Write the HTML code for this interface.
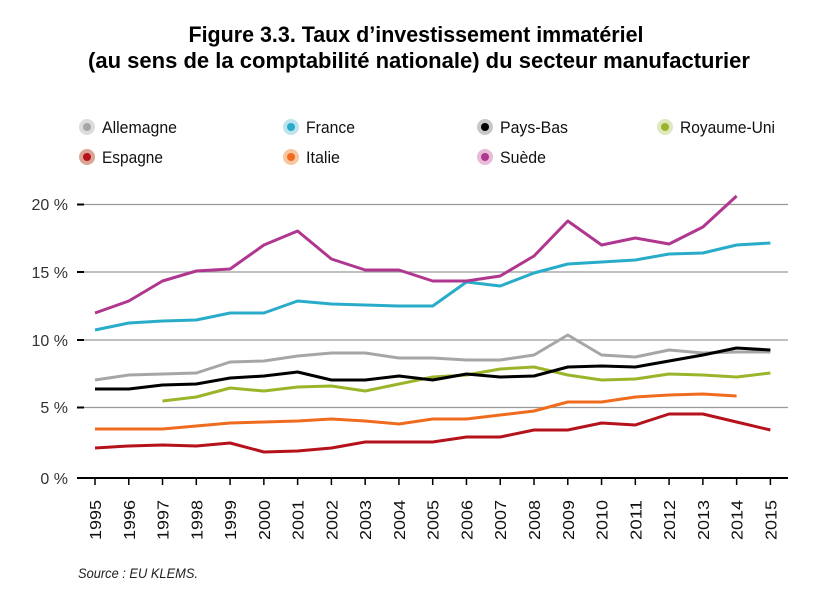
<!DOCTYPE html><html><head><meta charset="utf-8"><style>
body{margin:0;background:#fff;}
svg text{font-family:"Liberation Sans Narrow","Liberation Sans",sans-serif;}
</style></head><body>
<svg width="833" height="588" viewBox="0 0 833 588" xmlns="http://www.w3.org/2000/svg">
<text x="416" y="42" text-anchor="middle" font-size="22.5" font-weight="bold" fill="#000" textLength="455" lengthAdjust="spacingAndGlyphs">Figure 3.3. Taux d’investissement immatériel</text>
<text x="88" y="68" font-size="22.5" font-weight="bold" fill="#000" textLength="662" lengthAdjust="spacingAndGlyphs">(au sens de la comptabilité nationale) du secteur manufacturier</text>
<g font-size="17" fill="#111">
<circle cx="87" cy="127" r="8" fill="#dcdcdc"/><circle cx="87" cy="127" r="4" fill="#a6a6a6"/><text x="102" y="133" textLength="75" lengthAdjust="spacingAndGlyphs">Allemagne</text>
<circle cx="291" cy="127" r="8" fill="#bfe3ee"/><circle cx="291" cy="127" r="4" fill="#29acc9"/><text x="306" y="133" textLength="49" lengthAdjust="spacingAndGlyphs">France</text>
<circle cx="485" cy="127" r="8" fill="#c8c8c8"/><circle cx="485" cy="127" r="4" fill="#000"/><text x="500" y="133" textLength="68" lengthAdjust="spacingAndGlyphs">Pays-Bas</text>
<circle cx="665" cy="127" r="8" fill="#dde8bf"/><circle cx="665" cy="127" r="4" fill="#9bb52b"/><text x="680" y="133" textLength="95" lengthAdjust="spacingAndGlyphs">Royaume-Uni</text>
<circle cx="87" cy="157" r="8" fill="#dba594"/><circle cx="87" cy="157" r="4" fill="#b5121b"/><text x="102" y="163" textLength="61" lengthAdjust="spacingAndGlyphs">Espagne</text>
<circle cx="291" cy="157" r="8" fill="#f8c6a0"/><circle cx="291" cy="157" r="4" fill="#ef6c1f"/><text x="306" y="163" textLength="34" lengthAdjust="spacingAndGlyphs">Italie</text>
<circle cx="485" cy="157" r="8" fill="#e6bcd9"/><circle cx="485" cy="157" r="4" fill="#b0378f"/><text x="500" y="163" textLength="46" lengthAdjust="spacingAndGlyphs">Suède</text>
</g>
<g stroke="#999" stroke-width="1.3">
<line x1="84" y1="204.5" x2="788" y2="204.5"/><line x1="84" y1="272" x2="788" y2="272"/><line x1="84" y1="340" x2="788" y2="340"/><line x1="84" y1="407.5" x2="788" y2="407.5"/>
</g>
<g stroke="#000" stroke-width="2">
<line x1="77" y1="204.5" x2="84" y2="204.5"/><line x1="77" y1="272" x2="84" y2="272"/><line x1="77" y1="340" x2="84" y2="340"/><line x1="77" y1="407.5" x2="84" y2="407.5"/>
<line x1="77" y1="478" x2="788" y2="478"/>
</g>
<g font-size="16" fill="#333" text-anchor="end">
<text x="68" y="210">20 %</text><text x="68" y="278">15 %</text><text x="68" y="346">10 %</text><text x="68" y="413">5 %</text><text x="68" y="484">0 %</text>
</g>
<g id="xt" stroke="#000" stroke-width="1.5"></g>
<g id="xl" font-size="16" fill="#111"></g>
<g fill="none" stroke-width="3" stroke-linejoin="round" id="series"></g>
<text x="78" y="578" font-size="14" font-style="italic" fill="#222" textLength="120" lengthAdjust="spacingAndGlyphs">Source : EU KLEMS.</text>
<script>
var ns="http://www.w3.org/2000/svg";
function X(i){return 95+i*33.77;}
var xt=document.getElementById('xt'),xl=document.getElementById('xl');
for(var i=0;i<21;i++){var l=document.createElementNS(ns,'line');l.setAttribute('x1',X(i));l.setAttribute('x2',X(i));l.setAttribute('y1',478);l.setAttribute('y2',485);xt.appendChild(l);
var t=document.createElementNS(ns,'text');t.setAttribute('transform','translate('+(X(i)+6)+',540) rotate(-90)');t.setAttribute('textLength','40');t.setAttribute('lengthAdjust','spacingAndGlyphs');t.textContent=1995+i;xl.appendChild(t);}
var S=[
["#a6a6a6",0,[380,375,374,373,362,361,356,353,353,358,358,360,360,355,335,355,357,350,353,352,352]],
["#29acc9",0,[330,323,321,320,313,313,301,304,305,306,306,282,286,273,264,262,260,254,253,245,243]],
["#ef6c1f",0,[429,429,429,426,423,422,421,419,421,424,419,419,415,411,402,402,397,395,394,396]],
["#b5121b",0,[448,446,445,446,443,452,451,448,442,442,442,437,437,430,430,423,425,414,414,422,430]],
["#9bb52b",2,[401,397,388,391,387,386,391,384,377,375,369,367,375,380,379,374,375,377,373]],
["#000",0,[389,389,385,384,378,376,372,380,380,376,380,374,377,376,367,366,367,361,355,348,350]],
["#b0378f",0,[313,301,281,271,269,245,231,259,270,270,281,281,276,256,221,245,238,244,227,196]]
];
var g=document.getElementById('series');
S.forEach(function(s){var p=s[2].map(function(v,k){return X(k+s[1]).toFixed(1)+','+v;}).join(' ');
var pl=document.createElementNS(ns,'polyline');pl.setAttribute('points',p);pl.setAttribute('stroke',s[0]);g.appendChild(pl);});
</script>
</svg>
</body></html>
